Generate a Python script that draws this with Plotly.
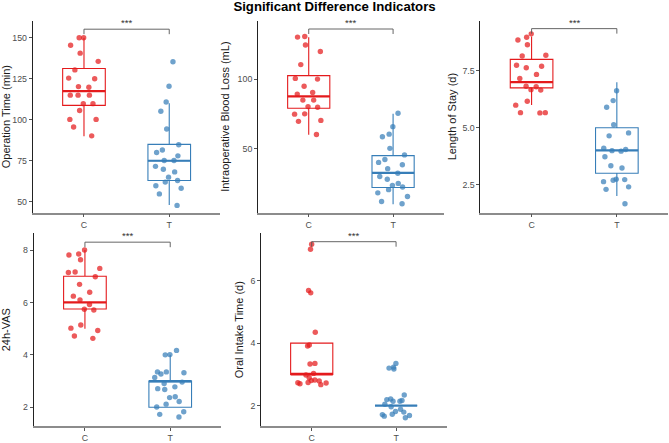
import plotly.graph_objects as go

# ---------------- data ----------------
groups = ["C", "T"]
panel_titles = ["Operation Time (min)", "Intraoperative Blood Loss (mL)",
                "Length of Stay (d)", "24h-VAS", "Oral Intake Time (d)"]

# displayed (jittered) point values
op_C = [150, 150, 145.4, 140.6, 135.6, 130.4, 125.4, 125, 119.8, 120.2, 115, 115, 115,
        109.8, 109.8, 105.6, 100.2, 100.2, 95.6, 90.2]
op_T = [135.4, 120.4, 110.8, 105.2, 94.4, 84.8, 81.6, 80, 78, 75.2, 75.2, 71.6, 69.8,
        68.2, 65, 63, 62, 58.2, 59.8, 54.8, 47.8]

bl_C = [130.2, 130.6, 124.5, 119.8, 110.4, 100.5, 100, 94.8, 90.3, 89.2, 84.9, 84.9,
        80.2, 79.7, 75, 74.8, 70.3, 69.6, 60.1]
bl_T = [75.4, 65.8, 58.5, 60.4, 50.2, 45.5, 42.2, 40.1, 38.4, 35.6, 32.3, 30, 28, 25,
        23.6, 22.4, 20.5, 18.2, 15.6, 12, 10.4]

los_C = [9.12, 8.97, 8.85, 8.64, 8.18, 8.15, 7.74, 7.70, 7.63, 7.34, 7.16, 6.82, 6.80,
         6.67, 6.65, 6.16, 5.99, 5.66, 5.66, 5.65]
los_T = [6.62, 6.19, 5.90, 5.13, 4.77, 4.64, 4.10, 4.04, 3.99, 3.97, 3.72, 3.33, 3.23,
         2.74, 2.72, 2.69, 2.63, 2.40, 2.29, 1.66]

vas_C = [8.0, 7.85, 7.81, 7.63, 7.30, 7.16, 7.14, 6.98, 6.69, 6.39, 6.24, 6.10, 5.92,
         5.74, 5.71, 5.14, 5.02, 4.93, 4.72, 4.63]
vas_T = [4.17, 4.01, 4.00, 3.35, 3.27, 3.35, 3.32, 3.14, 2.96, 2.91, 2.78, 2.71, 2.68,
         2.37, 2.40, 2.22, 2.12, 2.01, 1.83, 1.73, 1.63]

oi_C = [7.17, 7.01, 5.69, 5.61, 4.35, 3.94, 3.91, 3.35, 3.33, 3.03, 2.98, 2.89, 2.82,
        2.80, 2.79, 2.73, 2.72, 2.70, 2.67, 2.74]
oi_T = [3.35, 3.23, 3.17, 3.20, 2.19, 2.14, 2.34, 2.14, 2.21, 2.16, 2.04, 1.96, 1.81,
        1.88, 1.61, 1.72, 1.68, 1.71, 1.79, 1.66]

points = [(op_C, op_T), (bl_C, bl_T), (los_C, los_T), (vas_C, vas_T), (oi_C, oi_T)]

# box statistics per panel: (lowerfence, q1, median, q3, upperfence) for C and T
box_C = [(90, 108.75, 117.5, 131.25, 150), (60, 79, 87.5, 102.5, 130),
         (6, 6.75, 7, 8, 9), (5, 5.75, 6, 7, 8), (3, 3, 3, 4, 4)]
box_T = [(48, 63, 75, 85, 110), (10, 22, 32.5, 45, 75),
         (2, 3, 4, 5, 7), (2, 2, 3, 3, 4), (2, 2, 2, 2, 2)]

# significance bracket height and label per panel
sig_y = [155.2, 136.0, 9.35, 8.3, 7.25]
sig_label = ["***", "***", "***", "***", "***"]

# axis ranges and ticks
y_ranges = [(43.4, 160.4), (4, 142), (1.27, 9.7), (1.28, 8.64), (1.34, 7.52)]
y_ticks = [[50, 75, 100, 125, 150], [50, 100], [2.5, 5.0, 7.5], [2, 4, 6, 8], [2, 4, 6]]
y_ticktext = [["50", "75", "100", "125", "150"], ["50", "100"], ["2.5", "5.0", "7.5"],
              ["2", "4", "6", "8"], ["2", "4", "6"]]

# ---------------- styling / layout ----------------
colors = {"C": "#E41A1C", "T": "#377EB8"}
point_colors = {"C": "rgba(228,26,28,0.72)", "T": "rgba(55,126,184,0.72)"}
x_domains = [(0.0419, 0.3244), (0.3812, 0.6607), (0.7160, 0.9985),
             (0.0433, 0.3259), (0.3857, 0.6652)]
y_domains = [(0.5124, 0.9526)] * 3 + [(0.0226, 0.4650)] * 2
standoffs = [5, 5, 3, 11, 4]
BOX_W = 0.5
FONT = "Liberation Sans, Arial, sans-serif"

fig = go.Figure()
shapes = []
annotations = []

for i in range(5):
    xa = "x" if i == 0 else f"x{i+1}"
    ya = "y" if i == 0 else f"y{i+1}"
    stats = {"C": box_C[i], "T": box_T[i]}
    vals = {"C": points[i][0], "T": points[i][1]}
    for gi, g in enumerate(groups):
        lf, q1, med, q3, uf = stats[g]
        fig.add_trace(go.Box(
            x=[g], lowerfence=[lf], q1=[q1], median=[med], q3=[q3], upperfence=[uf],
            width=BOX_W, fillcolor="rgba(255,255,255,0)",
            line=dict(color=colors[g], width=1.1), boxpoints=False,
            whiskerwidth=0, showlegend=False, xaxis=xa, yaxis=ya, hoverinfo="skip"))
        # thicker median line
        shapes.append(dict(type="line", xref=xa, yref=ya,
                           x0=gi - BOX_W / 2, x1=gi + BOX_W / 2, y0=med, y1=med,
                           line=dict(color=colors[g], width=2.2)))
    for g in groups:
        fig.add_trace(go.Box(
            x=[g] * len(vals[g]), y=vals[g], boxpoints="all", jitter=1, pointpos=0,
            width=0.44, fillcolor="rgba(255,255,255,0)",
            line=dict(color="rgba(255,255,255,0)", width=0),
            marker=dict(color=point_colors[g], size=5.4, line=dict(width=0)),
            showlegend=False, xaxis=xa, yaxis=ya, hoveron="points"))
    # significance bracket
    span = y_ranges[i][1] - y_ranges[i][0]
    drop = 0.026 * span
    fig.add_trace(go.Scatter(
        x=["C", "C", "T", "T"], y=[sig_y[i] - drop, sig_y[i], sig_y[i], sig_y[i] - drop],
        mode="lines", line=dict(color="#555555", width=0.9), showlegend=False,
        hoverinfo="skip", xaxis=xa, yaxis=ya))
    annotations.append(dict(x=0.5, y=sig_y[i], xref=xa, yref=ya, text=sig_label[i],
                            showarrow=False, yanchor="bottom", yshift=-1,
                            font=dict(family=FONT, size=9.5, color="#333333")))

    axis_common = dict(showgrid=False, zeroline=False, showline=True, ticks="outside",
                       ticklen=3, tickwidth=0.8, tickcolor="#555555",
                       tickfont=dict(family=FONT, size=8.8, color="#4D4D4D"))
    xkey = "xaxis" if i == 0 else f"xaxis{i+1}"
    ykey = "yaxis" if i == 0 else f"yaxis{i+1}"
    fig.update_layout(**{
        xkey: dict(axis_common, domain=list(x_domains[i]), anchor=ya, type="category",
                   categoryorder="array", categoryarray=groups, range=[-0.6, 1.6],
                   linecolor="#8c8c8c", linewidth=1.5),
        ykey: dict(axis_common, domain=list(y_domains[i]), anchor=xa,
                   range=list(y_ranges[i]), tickvals=y_ticks[i], ticktext=y_ticktext[i],
                   linecolor="#222222", linewidth=1.1,
                   title=dict(text=panel_titles[i], standoff=standoffs[i],
                              font=dict(family=FONT, size=11, color="#1a1a1a"))),
    })

fig.update_layout(
    width=669, height=443, margin=dict(l=0, r=0, t=0, b=0),
    paper_bgcolor="white", plot_bgcolor="white", boxmode="overlay",
    title=dict(text="<b>Significant Difference Indicators</b>", x=0.5, xanchor="center",
               y=0.997, yanchor="top", yref="paper",
               font=dict(family=FONT, size=13.2, color="#000000")),
    shapes=shapes, annotations=annotations,
)

fig.write_html("out.html")
